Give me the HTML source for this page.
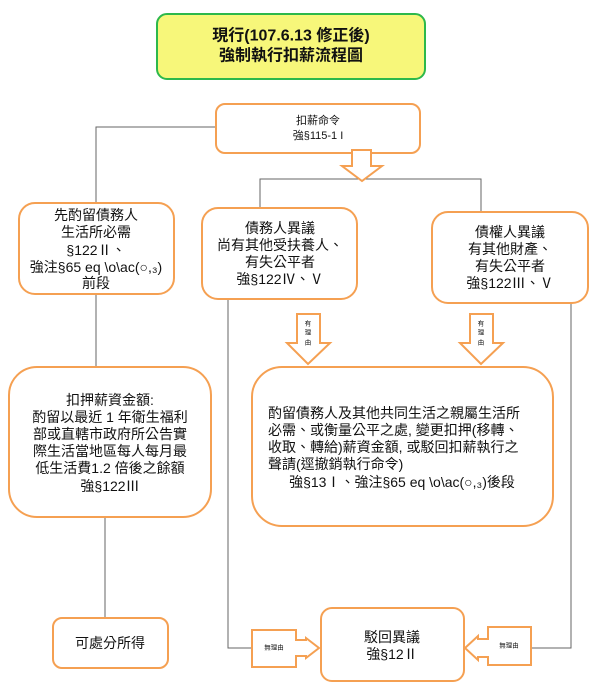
<!DOCTYPE html>
<html><head><meta charset="utf-8"><style>
html,body{margin:0;padding:0;background:#fff}
svg{display:block}
text{font-family:"Liberation Sans","Noto Sans CJK TC",sans-serif;fill:#111;dominant-baseline:central}
</style></head><body>
<svg width="600" height="695" viewBox="0 0 600 695" xmlns="http://www.w3.org/2000/svg">
<g fill="none" stroke="#666" stroke-width="1">
<polyline points="216,127 96,127 96,203"/>
<polyline points="260,208 260,179 481,179 481,212"/>
<line x1="96" y1="294" x2="96" y2="367"/>
<line x1="105" y1="517" x2="105" y2="618"/>
<polyline points="228,299 228,648 252,648"/>
<polyline points="571,303 571,648 531,648"/>
</g>
<rect x="157" y="14" width="268" height="65" rx="10" fill="#f7f77a" stroke="#2db84b" stroke-width="2"/>
<text x="291" y="36" font-size="16" text-anchor="middle" font-weight="bold">現行(107.6.13 修正後)</text>
<text x="291" y="56" font-size="16" text-anchor="middle" font-weight="bold">強制執行扣薪流程圖</text>
<g fill="#fff" stroke="#f5a052" stroke-width="2">
<rect x="216" y="104" width="204" height="49" rx="9"/>
<rect x="19" y="203" width="155" height="91" rx="16"/>
<rect x="202" y="208" width="155" height="91" rx="16"/>
<rect x="432" y="212" width="156" height="91" rx="16"/>
<rect x="9" y="367" width="202" height="150" rx="28"/>
<rect x="252" y="367" width="301" height="159" rx="30"/>
<rect x="53" y="618" width="115" height="50" rx="9"/>
<rect x="321" y="608" width="143" height="73" rx="11"/>
<polygon points="352,150 371,150 371,166 382,166 362,181 342,166 352,166"/>
<polygon points="297,314 320,314 320,343 330,343 308,364 287,343 297,343"/>
<polygon points="470,314 493,314 493,343 503,343 481,364 460,343 470,343"/>
<polygon points="252,630 296,630 296,640 306,640 306,638 319,648 306,658 306,656 296,656 296,667 252,667"/>
<polygon points="531,627 488,627 488,639 478,639 478,636 465,648 478,660 478,657 488,657 488,665 531,665"/>
</g>
<text x="318" y="121" font-size="11" text-anchor="middle">扣薪命令</text>
<text x="318" y="136" font-size="11" text-anchor="middle">強§115-1 I</text>
<g font-size="14" text-anchor="middle">
<text x="96" y="215">先酌留債務人</text>
<text x="96" y="232">生活所必需</text>
<text x="96" y="250">§122Ⅱ、</text>
<text x="96" y="267">強注§65 eq \o\ac(○,₃)</text>
<text x="96" y="283">前段</text>
<text x="280" y="228">債務人異議</text>
<text x="280" y="245">尚有其他受扶養人、</text>
<text x="280" y="262">有失公平者</text>
<text x="280" y="279">強§122Ⅳ、Ⅴ</text>
<text x="510" y="232">債權人異議</text>
<text x="510" y="249">有其他財產、</text>
<text x="510" y="266">有失公平者</text>
<text x="510" y="283">強§122Ⅲ、Ⅴ</text>
<text x="110" y="400">扣押薪資金額:</text>
<text x="110" y="417">酌留以最近 1 年衛生福利</text>
<text x="110" y="434">部或直轄市政府所公告實</text>
<text x="110" y="451">際生活當地區每人每月最</text>
<text x="110" y="468">低生活費1.2 倍後之餘額</text>
<text x="110" y="486">強§122Ⅲ</text>
<text x="110" y="643">可處分所得</text>
<text x="392" y="637">駁回異議</text>
<text x="392" y="654">強§12Ⅱ</text>
<text x="402" y="482">強§13Ⅰ、強注§65 eq \o\ac(○,₃)後段</text>
</g>
<g font-size="14">
<text x="268" y="413">酌留債務人及其他共同生活之親屬生活所</text>
<text x="268" y="430">必需、或衡量公平之處, 變更扣押(移轉、</text>
<text x="268" y="447">收取、轉給)薪資金額, 或駁回扣薪執行之</text>
<text x="268" y="464">聲請(逕撤銷執行命令)</text>
</g>
<g font-size="6.5" text-anchor="middle">
<text x="308" y="324">有</text><text x="308" y="333">理</text><text x="308" y="343">由</text>
<text x="481" y="324">有</text><text x="481" y="333">理</text><text x="481" y="343">由</text>
<text x="274" y="648">無理由</text>
<text x="509" y="646">無理由</text>
</g>
</svg>
</body></html>
